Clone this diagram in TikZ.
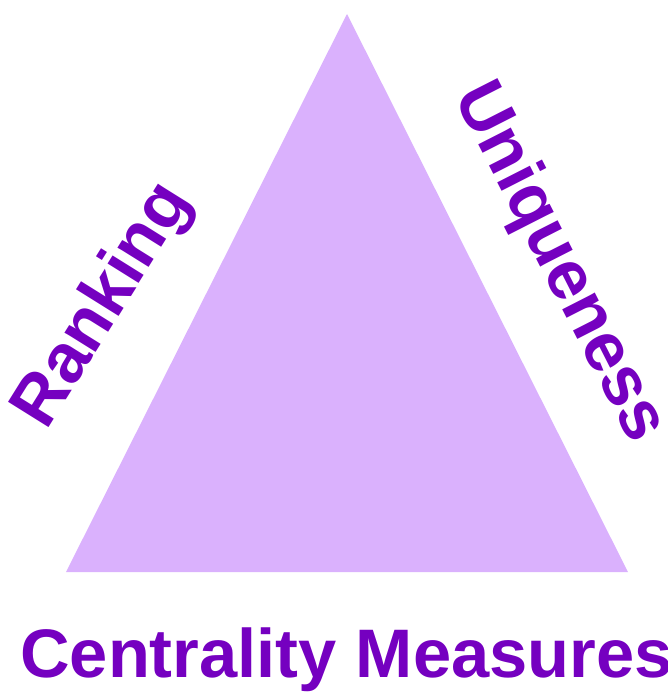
\documentclass[tikz,border=0pt]{standalone}
\usepackage{fontspec}
\setmainfont{Liberation Sans}
\usepackage{tikz}

\definecolor{triafill}{HTML}{DAB1FD}
\definecolor{labelpurple}{HTML}{7500C0}

\begin{document}
\begin{tikzpicture}[
        x=0.75pt,y=-0.75pt,
        side/.style={text=labelpurple,font=\fontsize{52}{52}\selectfont\bfseries,inner sep=0pt,anchor=center},
        title/.style={text=labelpurple,font=\fontsize{51.5}{52}\selectfont\bfseries,inner sep=0pt,anchor=base west}
    ]

    \useasboundingbox (0,0) rectangle (668,694);

    \fill[triafill] (347,14) -- (628,572) -- (66,572) -- cycle;

    \node[side,rotate=58] (ranking) at (104,306) {Ranking};
    \node[side,rotate=-63] (uniqueness) at (559,263) {Uniqueness};

    \node[title] (centrality) at (20,677) {Centrality Measures};

\end{tikzpicture}
\end{document}
